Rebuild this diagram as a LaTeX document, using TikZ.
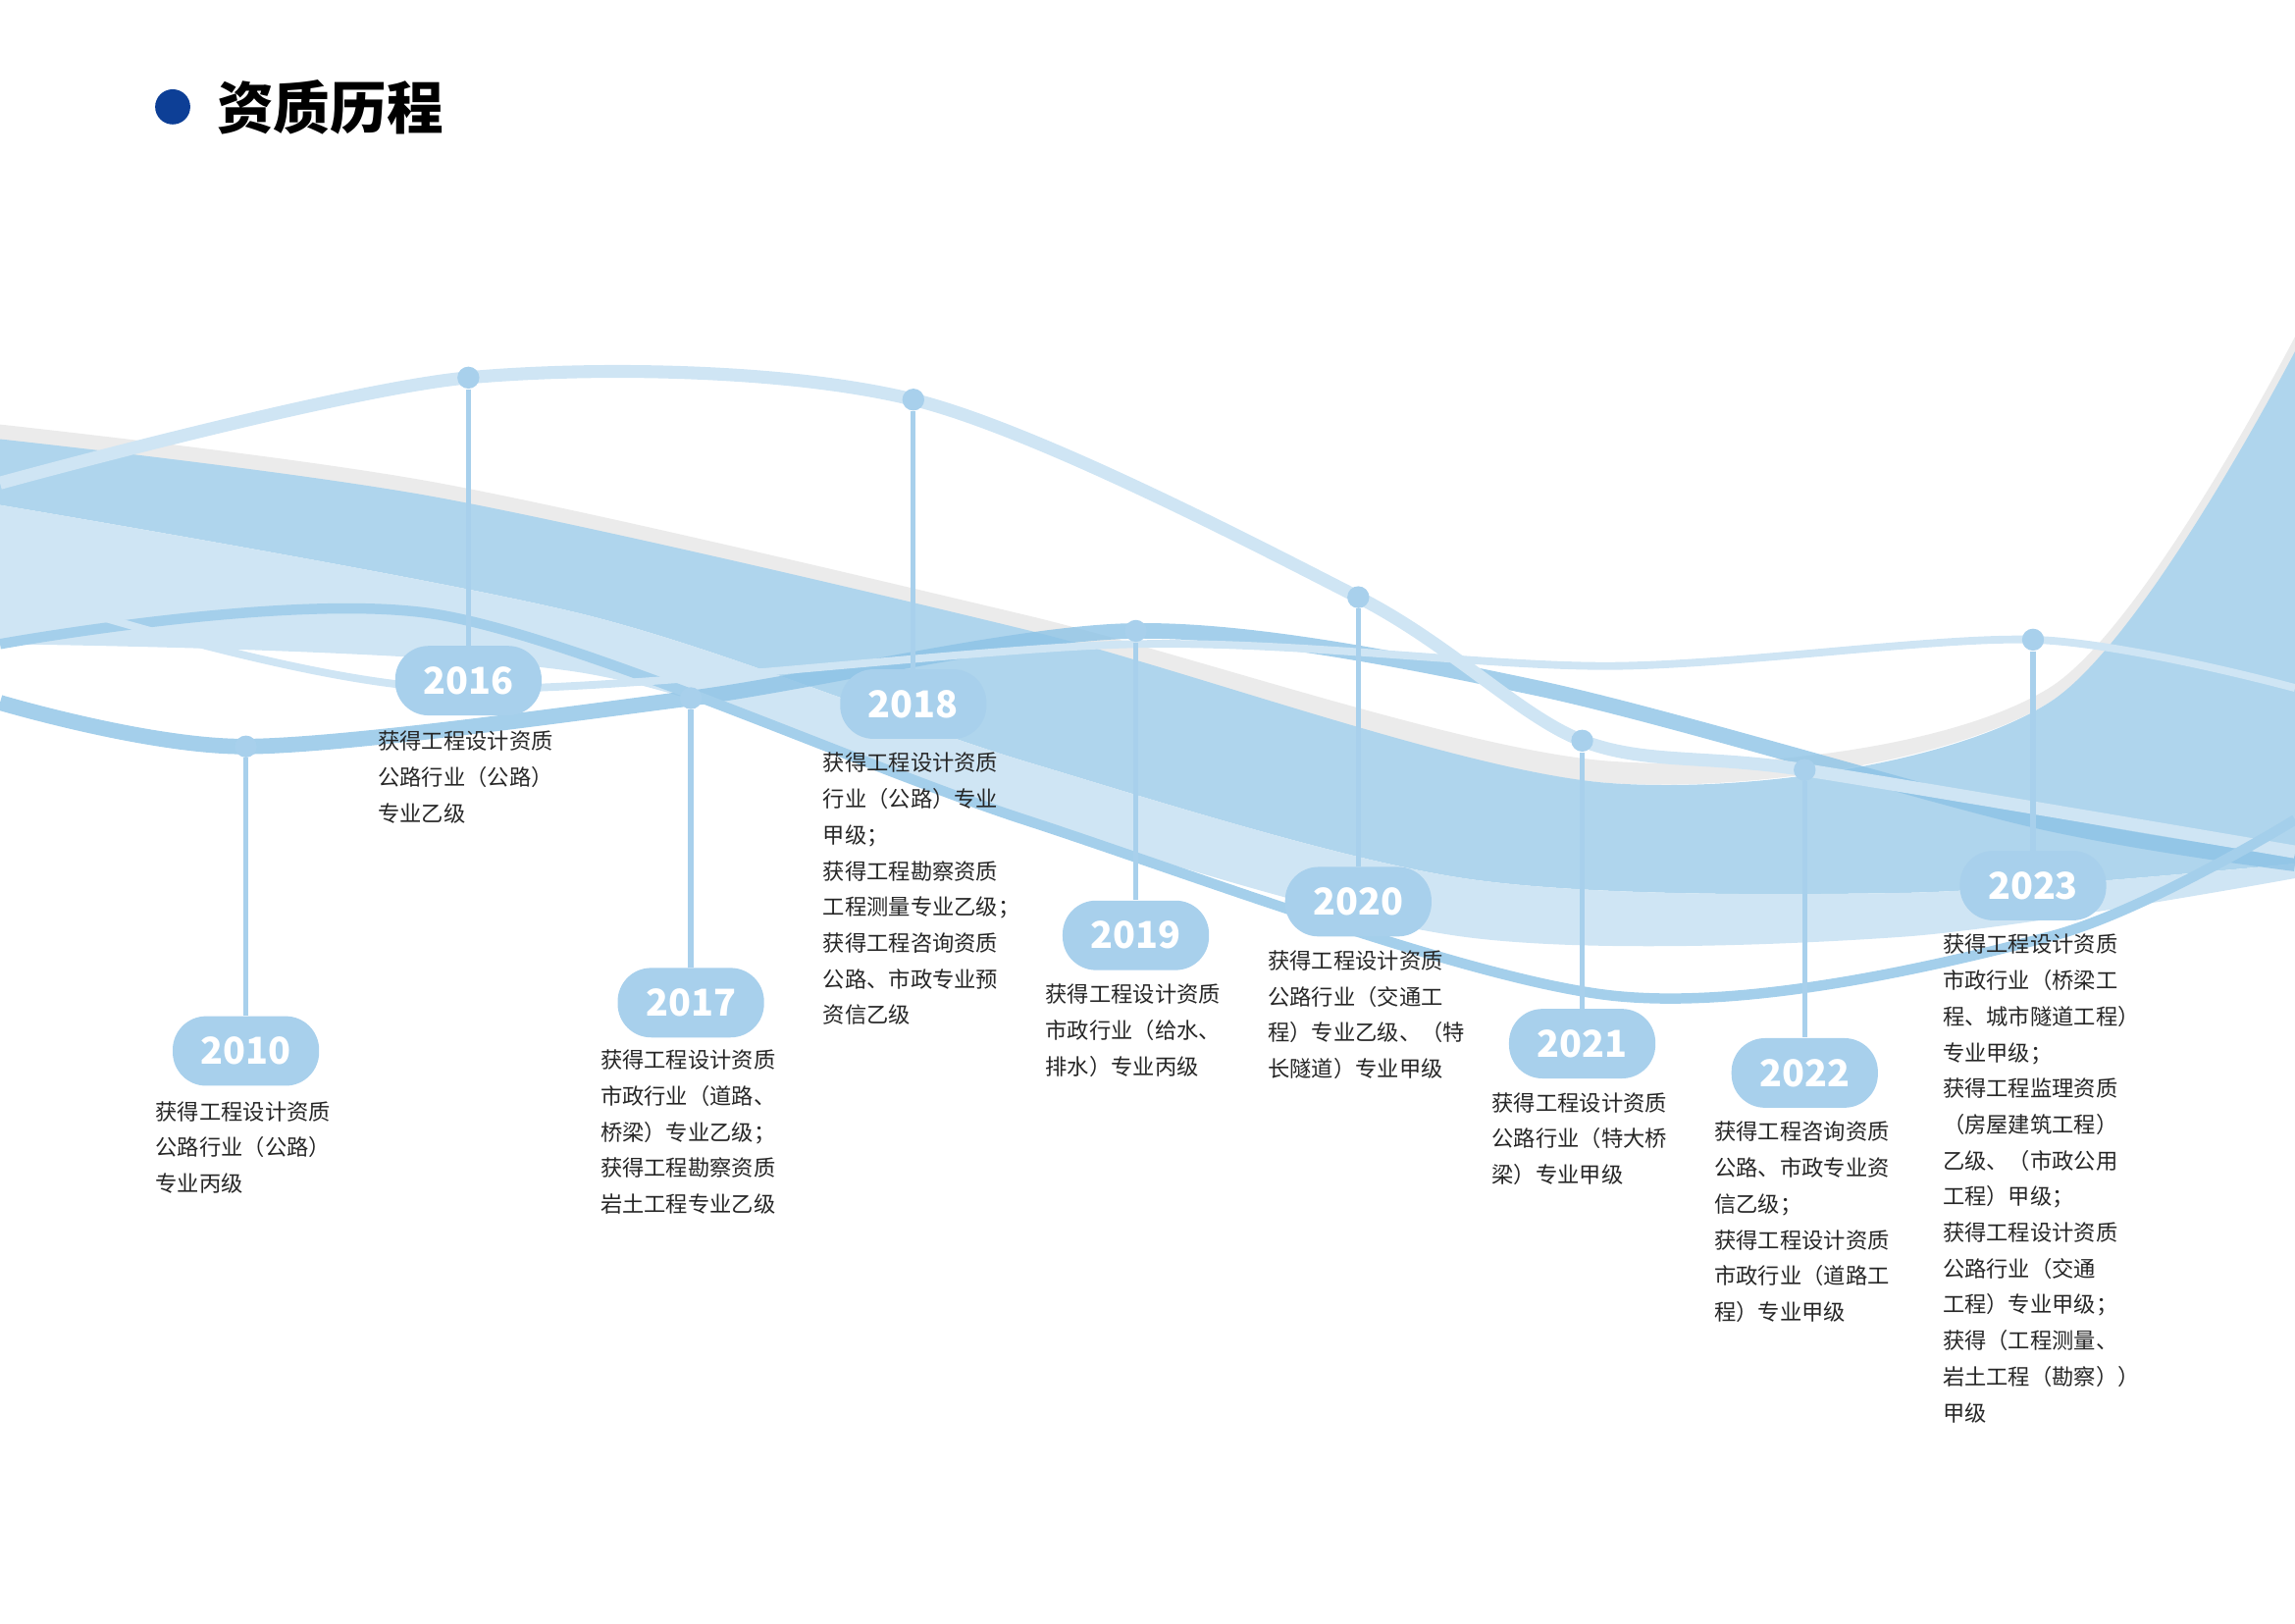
\documentclass[tikz,border=0pt]{standalone}
\usepackage{fontspec}
\setmainfont{Noto Sans CJK SC}
\usetikzlibrary{positioning}
\definecolor{wave}{HTML}{8DC3E6}
\definecolor{pale}{HTML}{CFE5F4}
\definecolor{pinblue}{HTML}{A8D0EC}
\definecolor{titleblue}{HTML}{0D3F96}
\tikzset{
  yearpill/.style={rounded corners=13pt, fill=pinblue, minimum width=20mm, minimum height=9.5mm, text=white, font=\bfseries\Large},
  pinhead/.style={circle, fill=pinblue, inner sep=0pt, minimum size=3mm},
  note/.style={anchor=north west, align=left, font=\fontsize{8.5}{14}\selectfont, text=black!85, inner sep=0pt}
}
\begin{document}
\begin{tikzpicture}[x=0.2mm, y=-0.2mm]
				\useasboundingbox (0,0) rectangle (1568,1109);
				% title
				\fill[titleblue] (118,73) circle (12);
				\node[anchor=west, font=\bfseries\fontsize{22}{22}\selectfont] (title) at (142,73) {资质历程};
				
				% waves
				\fill[black!8] plot[smooth] coordinates {(0,290) (300,330) (700,420) (1100,520) (1400,470) (1568,230)} -- (1568,250) -- plot[smooth] coordinates {(1568,250) (1400,480) (1100,535) (700,435) (300,345) (0,305)} -- cycle;
				\fill[wave!70] plot[smooth] coordinates {(0,300) (300,340) (700,430) (1100,535) (1400,480) (1568,240)} -- (1568,590) -- plot[smooth] coordinates {(1568,590) (1300,610) (1000,600) (700,520) (400,420) (0,345)} -- cycle;
				\fill[pale] plot[smooth] coordinates {(0,345) (400,420) (700,520) (1000,600) (1300,610) (1568,590)} -- (1568,600) -- plot[smooth] coordinates {(1568,600) (1300,640) (1000,640) (700,560) (400,460) (0,440)} -- cycle;
				\draw[wave, line width=6pt, opacity=.8] plot[smooth] coordinates {(0,480) (168,510) (472,477) (776,431) (1050,470) (1389,560) (1568,590)};
				\draw[pale, line width=5pt] plot[smooth] coordinates {(0,330) (320,258) (624,273) (928,408) (1081,506) (1233,526) (1568,582)};
				\draw[wave!80, line width=4pt] plot[smooth] coordinates {(0,440) (300,420) (700,560) (1100,680) (1400,640) (1568,560)};
				\draw[pale, line width=3pt] plot[smooth] coordinates {(0,400) (300,470) (776,440) (1100,455) (1389,437) (1568,470)};
				
				% pins and years
				\node[pinhead] (d2010) at (168,510) {};
				\node[pinhead] (d2016) at (320,258) {};
				\node[pinhead] (d2017) at (472,477) {};
				\node[pinhead] (d2018) at (624,273) {};
				\node[pinhead] (d2019) at (776,431) {};
				\node[pinhead] (d2020) at (928,408) {};
				\node[pinhead] (d2021) at (1081,506) {};
				\node[pinhead] (d2022) at (1233,526) {};
				\node[pinhead] (d2023) at (1389,437) {};
				
				\node[yearpill] (y2010) at (168,718) {2010};
				\node[yearpill] (y2016) at (320,465) {2016};
				\node[yearpill] (y2017) at (472,685) {2017};
				\node[yearpill] (y2018) at (624,481) {2018};
				\node[yearpill] (y2019) at (776,639) {2019};
				\node[yearpill] (y2020) at (928,616) {2020};
				\node[yearpill] (y2021) at (1081,713) {2021};
				\node[yearpill] (y2022) at (1233,733) {2022};
				\node[yearpill] (y2023) at (1389,605) {2023};
				
				\foreach \yr in {2010,2016,2017,2018,2019,2020,2021,2022,2023}
				  \draw[pinblue, line width=2pt] (d\yr) -- (y\yr);
				
				% notes
				\node[note] (t2010) at (106,752) {获得工程设计资质\\公路行业（公路）\\专业丙级};
				\node[note] (t2016) at (258,499) {获得工程设计资质\\公路行业（公路）\\专业乙级};
				\node[note] (t2017) at (410,717) {获得工程设计资质\\市政行业（道路、\\桥梁）专业乙级；\\获得工程勘察资质\\岩土工程专业乙级};
				\node[note] (t2018) at (562,514) {获得工程设计资质\\行业（公路）专业\\甲级；\\获得工程勘察资质\\工程测量专业乙级；\\获得工程咨询资质\\公路、市政专业预\\资信乙级};
				\node[note] (t2019) at (714,672) {获得工程设计资质\\市政行业（给水、\\排水）专业丙级};
				\node[note] (t2020) at (866,649) {获得工程设计资质\\公路行业（交通工\\程）专业乙级、（特\\长隧道）专业甲级};
				\node[note] (t2021) at (1019,746) {获得工程设计资质\\公路行业（特大桥\\梁）专业甲级};
				\node[note] (t2022) at (1171,766) {获得工程咨询资质\\公路、市政专业资\\信乙级；\\获得工程设计资质\\市政行业（道路工\\程）专业甲级};
				\node[note] (t2023) at (1327,638) {获得工程设计资质\\市政行业（桥梁工\\程、城市隧道工程）\\专业甲级；\\获得工程监理资质\\（房屋建筑工程）\\乙级、（市政公用\\工程）甲级；\\获得工程设计资质\\公路行业（交通\\工程）专业甲级；\\获得（工程测量、\\岩土工程（勘察））\\甲级};
			\end{tikzpicture}
\end{document}
